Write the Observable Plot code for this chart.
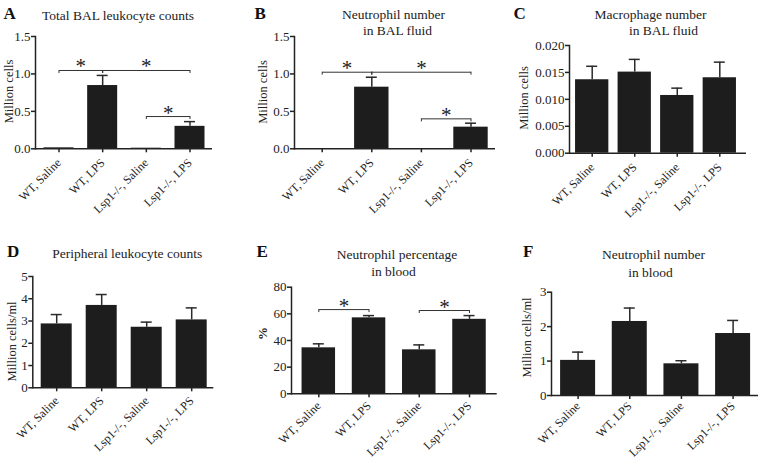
<!DOCTYPE html>
<html><head><meta charset="utf-8">
<script src="https://cdn.jsdelivr.net/npm/d3@7"></script>
<script src="https://cdn.jsdelivr.net/npm/@observablehq/plot@0.6"></script>
<style>
html,body{margin:0;padding:0;background:#fff;overflow:hidden;}
#fig{position:relative;width:758px;height:460px;overflow:hidden;background:#fff;}
#fig svg{position:absolute;}
</style></head><body><div id="fig"></div>
<script>
// ---- shared categories ----
const groups = ["WT, Saline", "WT, LPS", "Lsp1-/-, Saline", "Lsp1-/-, LPS"];

// ---- A: Total BAL leukocyte counts ----
const aTitle = ["Total BAL leukocyte counts"];
const aYLabel = "Million cells";
const aMean = [0.013, 0.845, 0.008, 0.30];
const aSem  = [0, 0.135, 0, 0.063];
const aTicks = [0, 0.5, 1.0, 1.5];
const aSig = [["WT, Saline", "WT, LPS", 1.046], ["WT, LPS", "Lsp1-/-, LPS", 1.046], ["Lsp1-/-, Saline", "Lsp1-/-, LPS", 0.431]];

// ---- B: Neutrophil number in BAL fluid ----
const bTitle = ["Neutrophil number", "in BAL fluid"];
const bYLabel = "Million cells";
const bMean = [0, 0.823, 0, 0.289];
const bSem  = [0, 0.133, 0, 0.053];
const bTicks = [0, 0.5, 1.0, 1.5];
const bSig = [["WT, Saline", "WT, LPS", 1.023], ["WT, LPS", "Lsp1-/-, LPS", 1.023], ["Lsp1-/-, Saline", "Lsp1-/-, LPS", 0.40]];

// ---- C: Macrophage number in BAL fluid ----
const cTitle = ["Macrophage number", "in BAL fluid"];
const cYLabel = "Million cells";
const cMean = [0.01364, 0.01506, 0.01072, 0.01401];
const cSem  = [0.00250, 0.00236, 0.00136, 0.00290];
const cTicks = [0, 0.005, 0.010, 0.015, 0.020];

// ---- D: Peripheral leukocyte counts ----
const dTitle = ["Peripheral leukocyte counts"];
const dYLabel = "Million cells/ml";
const dMean = [2.87, 3.70, 2.72, 3.05];
const dSem  = [0.42, 0.49, 0.23, 0.54];
const dTicks = [0, 1, 2, 3, 4, 5];

// ---- E: Neutrophil percentage in blood ----
const eTitle = ["Neutrophil percentage", "in blood"];
const eYLabel = "%";
const eMean = [34.5, 57.0, 33.0, 55.9];
const eSem  = [3.0, 1.7, 3.7, 2.8];
const eTicks = [0, 20, 40, 60, 80];
const eSig = [["WT, Saline", "WT, LPS", 63.2], ["Lsp1-/-, Saline", "Lsp1-/-, LPS", 62.5]];

// ---- F: Neutrophil number in blood ----
const fTitle = ["Neutrophil number", "in blood"];
const fYLabel = "Million cells/ml";
const fMean = [1.02, 2.15, 0.92, 1.80];
const fSem  = [0.24, 0.39, 0.09, 0.38];
const fTicks = [0, 1, 2, 3];

// ---- layout (absolute page pixels) ----
const panels = [
  {letter: "A", title: aTitle, ylabel: aYLabel, mean: aMean, sem: aSem, ticks: aTicks, fmt: ".1f", sig: aSig,
   box: [0, 0, 250, 230], frame: [35, 212, 36, 148.3], bars: [58.5, 189.5, 30], xPad: 8,
   letterPos: [3, 18.3], titlePos: [[117.5, 19.5]], ylabelPos: [8.5, 91]},
  {letter: "B", title: bTitle, ylabel: bYLabel, mean: bMean, sem: bSem, ticks: bTicks, fmt: ".1f", sig: bSig,
   box: [250, 0, 250, 230], frame: [294, 495, 36, 148.3], bars: [321.7, 470.5, 34.4], xPad: 8,
   letterPos: [254, 18.3], titlePos: [[393, 18.5], [397, 34.5]], ylabelPos: [262, 91.5]},
  {letter: "C", title: cTitle, ylabel: cYLabel, mean: cMean, sem: cSem, ticks: cTicks, fmt: ".3f", sig: [],
   box: [500, 0, 258, 230], frame: [569, 746, 45, 152.7], bars: [591.7, 719.3, 33.3], xPad: 8,
   letterPos: [513, 18.3], titlePos: [[650, 18.5], [663, 34.5]], ylabelPos: [523.5, 97.5]},
  {letter: "D", title: dTitle, ylabel: dYLabel, mean: dMean, sem: dSem, ticks: dTicks, fmt: "d", sig: [],
   box: [0, 230, 250, 230], frame: [32.3, 213.3, 276, 387.3], bars: [56.2, 191.2, 31], xPad: 7,
   letterPos: [6.5, 256.7], titlePos: [[126.7, 257.7]], ylabelPos: [11, 341]},
  {letter: "E", title: eTitle, ylabel: eYLabel, mean: eMean, sem: eSem, ticks: eTicks, fmt: "d", sig: eSig, ylabelBold: true,
   box: [250, 230, 250, 230], frame: [291, 496.7, 286.7, 393.3], bars: [318.3, 469, 33.5], xPad: 6,
   letterPos: [256, 256.7], titlePos: [[396.5, 258.3], [393, 275.5]], ylabelPos: [262, 333]},
  {letter: "F", title: fTitle, ylabel: fYLabel, mean: fMean, sem: fSem, ticks: fTicks, fmt: "d", sig: [],
   box: [500, 230, 262, 230], frame: [551, 761, 291.7, 395], bars: [577.6, 732.6, 35], xPad: 4.5,
   letterPos: [522.5, 256.7], titlePos: [[653, 258], [650, 276]], ylabelPos: [526.5, 337]}
];

const INK = "#222";
const BAR = "#1d1d1d";
const FONT = "'Liberation Serif', 'Times New Roman', serif";

function makePanel(p) {
  const [left, top, width, height] = p.box;
  const [fl, fr, ft, fb] = p.frame;
  const [c0, c3, bw] = p.bars;
  const S = (c3 - c0) / (groups.length - 1);
  const pin = 1 - bw / S;
  const yMax = p.ticks[p.ticks.length - 1];
  const drop = 3 * yMax / (fb - ft);
  const capInset = (bw - 11) / 2;
  const data = groups.map((g, i) => ({g, mean: p.mean[i], sem: p.sem[i]}));
  const err = data.filter(d => d.sem > 0);
  const sig = p.sig.map(([a, b, y]) => ({a, b, y}));

  const marks = [
    Plot.barY(data, {x: "g", y: "mean", fill: BAR}),
    Plot.ruleX(err, {x: "g", y1: "mean", y2: d => d.mean + d.sem, stroke: "#2a2a2a", strokeWidth: 1.5}),
    Plot.tickY(err, {x: "g", y: d => d.mean + d.sem, insetLeft: capInset, insetRight: capInset, stroke: "#2a2a2a", strokeWidth: 1.5}),
    Plot.ruleY([0], {stroke: INK, strokeWidth: 1.5}),
    Plot.frame({anchor: "left", stroke: INK, strokeWidth: 1.5}),
    Plot.axisY({ticks: p.ticks, tickFormat: d3.format(p.fmt), tickSize: 4, tickPadding: 1, fontSize: 13, strokeWidth: 1.5, label: null}),
    Plot.axisX({tickRotate: -45, tickSize: 4, tickPadding: p.xPad, fontSize: 12, strokeWidth: 1.5, label: null}),
    // significance brackets
    Plot.link(sig, {x1: "a", x2: "b", y1: "y", y2: "y", stroke: "#333", strokeWidth: 1}),
    Plot.ruleX(sig, {x: "a", y1: "y", y2: d => d.y - drop, stroke: "#333", strokeWidth: 1}),
    Plot.ruleX(sig, {x: "b", y1: "y", y2: d => d.y - drop, stroke: "#333", strokeWidth: 1}),
    ...sig.map(s => Plot.text([s], {x: "a", y: "y", text: () => "*", fontSize: 21, fill: "#222",
      lineAnchor: "bottom", dx: (groups.indexOf(s.b) - groups.indexOf(s.a)) * S / 2, dy: 3})),
    // panel letter
    Plot.text([p.letter], {text: d => d, frameAnchor: "top-left", textAnchor: "start", lineAnchor: "bottom",
      dx: p.letterPos[0] - fl, dy: p.letterPos[1] - ft, fontSize: 17, fontWeight: "bold", fill: "#111"}),
    // title lines
    ...p.title.map((line, i) => Plot.text([line], {text: d => d, frameAnchor: "top-left", textAnchor: "middle", lineAnchor: "bottom",
      dx: p.titlePos[i][0] - fl, dy: p.titlePos[i][1] - ft, fontSize: 13.5, fill: INK})),
    // y label
    Plot.text([p.ylabel], {text: d => d, frameAnchor: "top-left", textAnchor: "middle", lineAnchor: "middle", rotate: -90,
      dx: p.ylabelPos[0] - fl, dy: p.ylabelPos[1] - ft, fontSize: p.ylabelBold ? 13 : 12.5, fontWeight: p.ylabelBold ? "bold" : "normal", fill: INK})
  ];

  const svg = Plot.plot({
    width, height,
    marginLeft: fl - left, marginRight: left + width - fr,
    marginTop: ft - top, marginBottom: top + height - fb,
    style: {fontFamily: FONT, fontSize: "12px", color: INK, background: "transparent", overflow: "visible", maxWidth: "none"},
    x: {type: "band", domain: groups, range: [c0 - S / 2 - left, c3 + S / 2 - left], paddingInner: pin, paddingOuter: pin / 2, round: false},
    y: {type: "linear", domain: [0, yMax], nice: false},
    marks
  });
  svg.style.left = left + "px";
  svg.style.top = top + "px";
  return svg;
}

const fig = document.getElementById("fig");
for (const p of panels) fig.appendChild(makePanel(p));
</script>
</body></html>
